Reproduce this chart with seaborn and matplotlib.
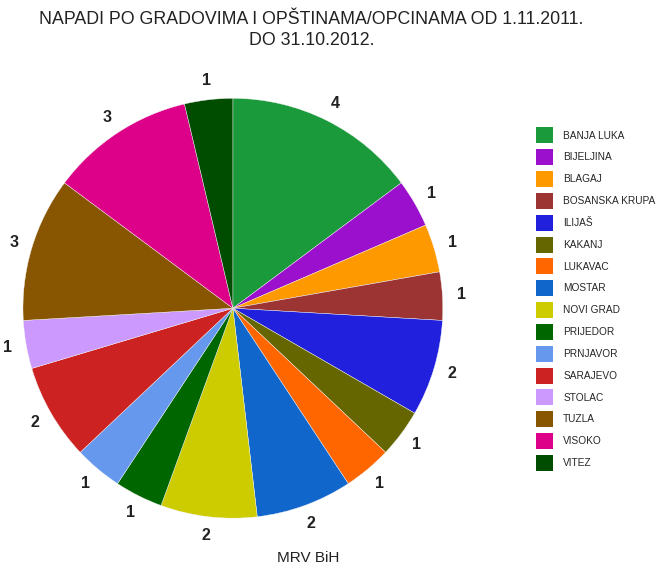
import matplotlib
matplotlib.use("Agg")
import matplotlib.pyplot as plt
import matplotlib.patches as mpatches
import seaborn as sns

# Broj napada po gradu (1.11.2011. - 31.10.2012.)
cities = ["BANJA LUKA", "BIJELJINA", "BLAGAJ", "BOSANSKA KRUPA", "ILIJAŠ", "KAKANJ",
          "LUKAVAC", "MOSTAR", "NOVI GRAD", "PRIJEDOR", "PRNJAVOR", "SARAJEVO",
          "STOLAC", "TUZLA", "VISOKO", "VITEZ"]
attacks = [4, 1, 1, 1, 2, 1, 1, 2, 2, 1, 1, 2, 1, 3, 3, 1]
colors = ["#1a9a3a", "#9a10cc", "#ff9900", "#9c3434", "#2020dd", "#666600",
          "#ff6600", "#1166cc", "#cccc00", "#006600", "#6699ee", "#cc2222",
          "#cc99ff", "#885500", "#dd0088", "#004d00"]

sns.set_style("white")
palette = sns.color_palette(colors)
plt.rcParams["font.family"] = ["Liberation Sans", "DejaVu Sans"]

fig = plt.figure(figsize=(6.56, 5.74), dpi=100)
ax = fig.add_axes([0.035, 0.097, 0.64, 0.732])

wedges, texts = ax.pie(attacks, colors=palette, startangle=90, counterclock=False,
                       labels=[str(v) for v in attacks], labeldistance=1.09,
                       wedgeprops=dict(linewidth=0.3, edgecolor="#f4f4f4"),
                       textprops=dict(fontsize=11.5, fontweight="bold", color="#222222"))
for t in texts:
    t.set_horizontalalignment("center")
    t.set_verticalalignment("center")
ax.set_xlim(-1, 1)
ax.set_ylim(-1, 1)
ax.set_aspect("equal")

handles = [mpatches.Patch(facecolor=c, edgecolor="none") for c in palette]
fig.legend(handles, cities, loc="upper left", bbox_to_anchor=(0.811, 0.785),
           frameon=False, fontsize=7.3, handlelength=1.67, handleheight=2.05,
           labelspacing=0.575, handletextpad=1.0, borderaxespad=0)

fig.text(0.475, 0.98, "NAPADI PO GRADOVIMA I OPŠTINAMA/OPCINAMA OD 1.11.2011.\nDO 31.10.2012.",
         ha="center", va="top", fontsize=12.8, color="#222222", linespacing=1.3)
fig.text(0.47, 0.015, "MRV BiH", ha="center", va="bottom", fontsize=11, color="#222222")

fig.savefig("out.png", dpi=100)
